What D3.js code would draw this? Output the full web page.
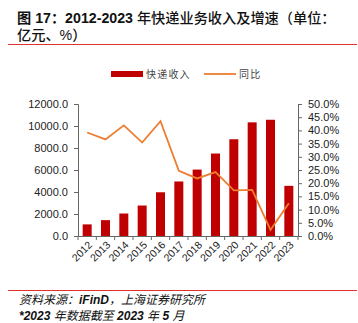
<!DOCTYPE html>
<html lang="zh-CN"><head><meta charset="utf-8">
<script src="https://cdn.jsdelivr.net/npm/d3@7"></script>
<style>
body{margin:0;background:#fff;}
svg{display:block;}
text{font-family:"Liberation Sans",Arial,"Noto Sans CJK SC",sans-serif;}
</style></head>
<body>
<svg id="c" width="358" height="323" lang="zh-CN"></svg>
<script>
const years = ["2012","2013","2014","2015","2016","2017","2018","2019","2020","2021","2022","2023"];
const revenue = [1055.3,1441.7,2045.4,2769.6,3974.4,4957.1,6038.4,7497.8,8795.4,10332.3,10566.7,4560];
const growth = [39.2,36.6,41.9,35.4,43.5,24.7,21.8,24.2,17.3,17.5,2.3,12.4];
const leftTicks = [0,2000,4000,6000,8000,10000,12000];
const rightTicks = [0,5,10,15,20,25,30,35,40,45,50];

const svg = d3.select("#c");
const cjk = '"Noto Sans CJK SC","Liberation Sans",sans-serif';
const lat = '"Liberation Sans","Noto Sans CJK SC",sans-serif';

// Title (single text element, two lines); Latin primary font keeps line boxes compact
const t = svg.append("text").attr("x",17).attr("y",23)
  .style("font-size","14.2px").style("font-weight","bold").attr("fill","#111")
  .style("font-family",lat);
t.append("tspan").text("图 17：2012-2023 ");
t.append("tspan").style("font-weight","500").text("年快递业务收入及增速（单位：");
t.append("tspan").attr("x",17).attr("y",39.5).style("font-weight","500").text("亿元、%）");
svg.append("line").attr("x1",8).attr("x2",357).attr("y1",44.5).attr("y2",44.5)
  .attr("stroke","#e03030").attr("stroke-width",1);

// Scales
const x = d3.scaleBand().domain(years).range([78,298]).paddingInner(0.5).paddingOuter(0.25);
const yL = d3.scaleLinear().domain([0,12000]).range([236,104]);
const yR = d3.scaleLinear().domain([0,50]).range([236,104]);

// Bars
svg.append("g").selectAll("rect").data(years).join("rect")
  .attr("x",d=>x(d)+x.bandwidth()/2-4.5).attr("width",9)
  .attr("y",(d,i)=>yL(revenue[i])).attr("height",(d,i)=>236-yL(revenue[i]))
  .attr("fill","#c00000");

// Axes
const fmtL = d=>d3.format(".1f")(d);
const axL = svg.append("g").attr("transform","translate(78,0)")
  .call(d3.axisLeft(yL).tickValues(leftTicks).tickFormat(fmtL).tickSize(4).tickPadding(6));
const axR = svg.append("g").attr("transform","translate(298,0)")
  .call(d3.axisRight(yR).tickValues(rightTicks).tickFormat(d=>d3.format(".1f")(d)+"%").tickSize(4).tickPadding(6));
[axL,axR].forEach(a=>{
  a.select(".domain").attr("stroke","#666");
  a.selectAll(".tick line").attr("stroke","#666");
  a.selectAll("text").style("font-size","11px").attr("fill","#222")
    .style("font-family",'"Liberation Sans",Arial,sans-serif');
});

// X axis
const axX = svg.append("g").attr("transform","translate(0,236)")
  .call(d3.axisBottom(x).tickSize(0).tickFormat(""));
axX.select(".domain").attr("stroke","#666");
svg.append("g").selectAll("line").data(d3.range(years.length+1)).join("line")
  .attr("x1",i=>x.range()[0]+i*(220/years.length)).attr("x2",i=>x.range()[0]+i*(220/years.length))
  .attr("y1",236).attr("y2",240).attr("stroke","#666");
svg.append("g").selectAll("text").data(years).join("text")
  .attr("transform",d=>`translate(${x(d)+x.bandwidth()/2+3},${243}) rotate(-45)`)
  .attr("text-anchor","end").attr("dy","0.35em")
  .style("font-size","10.5px").attr("fill","#222").text(d=>d);

// Line
const line = d3.line().x((d,i)=>x(years[i])+x.bandwidth()/2).y(d=>yR(d));
svg.append("path").datum(growth).attr("d",line).attr("fill","none")
  .attr("stroke","#ed7d31").attr("stroke-width",1.8);

// Legend
svg.append("rect").attr("x",111).attr("y",71).attr("width",32).attr("height",6).attr("fill","#c00000");
svg.append("text").attr("x",146).attr("y",77.5).style("font-size","10px").style("letter-spacing","1.2px")
  .style("font-family",cjk).attr("fill","#444").text("快递收入");
svg.append("line").attr("x1",204).attr("x2",236).attr("y1",74).attr("y2",74)
  .attr("stroke","#ed7d31").attr("stroke-width",1.8);
svg.append("text").attr("x",239).attr("y",77.5).style("font-size","10px").style("letter-spacing","1.2px")
  .style("font-family",cjk).attr("fill","#444").text("同比");

// Footer
svg.append("line").attr("x1",8).attr("x2",357).attr("y1",290.5).attr("y2",290.5)
  .attr("stroke","#e03030").attr("stroke-width",1);
const s1 = svg.append("text").attr("x",19).attr("y",304).style("font-size","12px").style("font-style","italic").attr("fill","#111");
s1.append("tspan").style("font-family",cjk).text("资料来源：");
s1.append("tspan").style("font-weight","bold").text("iFinD");
s1.append("tspan").style("font-family",cjk).text("，上海证券研究所");
const s2 = svg.append("text").attr("x",19).attr("y",320).style("font-size","12px").style("font-style","italic").attr("fill","#111");
s2.append("tspan").style("font-weight","bold").text("*2023 ");
s2.append("tspan").style("font-family",cjk).text("年数据截至");
s2.append("tspan").style("font-weight","bold").text(" 2023 ");
s2.append("tspan").style("font-family",cjk).text("年");
s2.append("tspan").style("font-weight","bold").text(" 5 ");
s2.append("tspan").style("font-family",cjk).text("月");
</script>
</body></html>
